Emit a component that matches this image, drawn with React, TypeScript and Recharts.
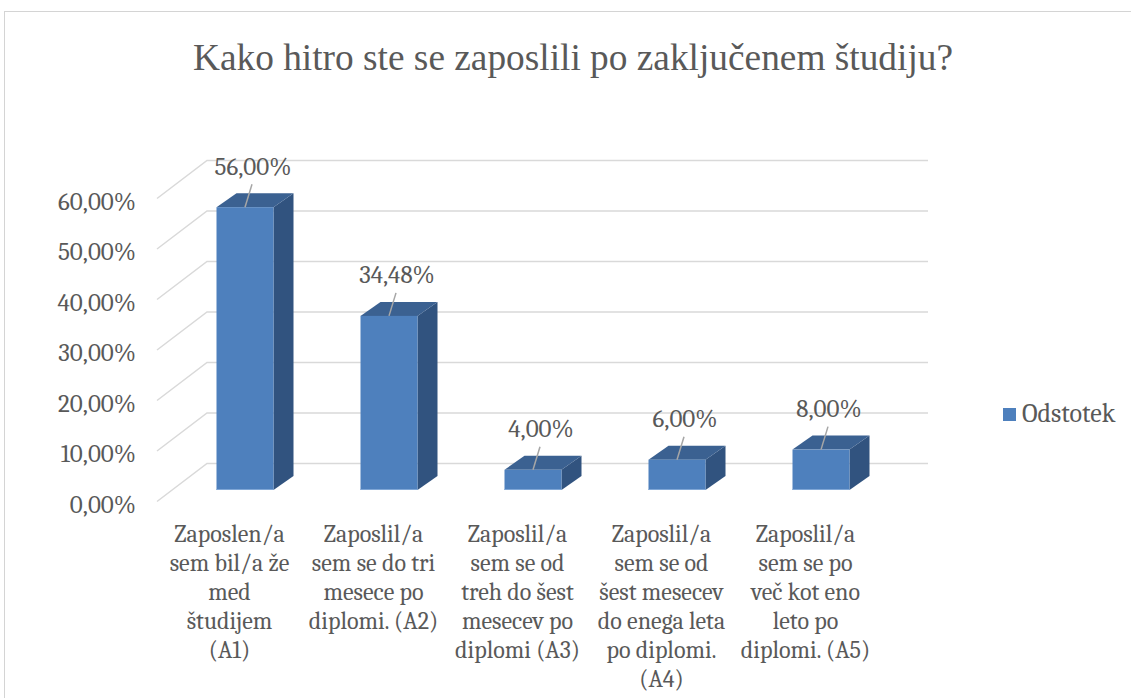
import React from "react";
import { BarChart, Bar, XAxis, YAxis, CartesianGrid, Legend, LabelList } from "recharts";

// podatki z grafa
const kategorije = [
  "Zaposlen/a\nsem bil/a že\nmed\nštudijem\n(A1)",
  "Zaposlil/a\nsem se do tri\nmesece po\ndiplomi. (A2)",
  "Zaposlil/a\nsem se od\ntreh do šest\nmesecev po\ndiplomi (A3)",
  "Zaposlil/a\nsem se od\nšest mesecev\ndo enega leta\npo diplomi.\n(A4)",
  "Zaposlil/a\nsem se po\nveč kot eno\nleto po\ndiplomi. (A5)",
];
const odstotek = [56, 34.48, 4, 6, 8];
const yTicks = [0, 10, 20, 30, 40, 50, 60];

const data = kategorije.map((name, i) => ({ name, Odstotek: odstotek[i] }));

const TEXT = "#595959";
const GRID = "#D9D9D9";
const FONT = "Caladea";
const TITLE_FONT = "Liberation Serif";

const fmt = (v: number) => v.toFixed(2).replace(".", ",") + "%";

// 3D stolpec: spredaj, zgoraj, ob strani
const Bar3D = (props: any) => {
  const { x, y, width, height } = props;
  const dx = 20;
  const dy = 14;
  return (
    <g>
      <polygon
        points={`${x + width},${y} ${x + width + dx},${y - dy} ${x + width + dx},${y + height - dy} ${x + width},${y + height}`}
        fill="#31537F"
      />
      <polygon
        points={`${x},${y} ${x + dx},${y - dy} ${x + width + dx},${y - dy} ${x + width},${y}`}
        fill="#3B6191"
      />
      <rect x={x} y={y} width={width} height={height} fill="#4E80BD" />
      <line x1={x} y1={y + height - 0.5} x2={x + width} y2={y + height - 0.5} stroke="#7FA6D6" strokeWidth={1} />
    </g>
  );
};

const BarLabel = (props: any) => {
  const { x, y, width, value } = props;
  const cx = x + width / 2;
  return (
    <g>
      <line x1={cx} y1={y} x2={cx + 7} y2={y - 23} stroke="#A6A6A6" strokeWidth={1.5} />
      <text x={cx + 8} y={y - 41} textAnchor="middle" dominantBaseline="central" style={{ fontFamily: FONT, fontSize: 25, fill: TEXT }}>
        {fmt(value)}
      </text>
    </g>
  );
};

// mreža: poševni del + zadnja stena
const gridLine = (props: any) => {
  const y = props.y1;
  return (
    <path
      key={"g" + props.index + "-" + y}
      d={`M157,${y + 11.5}L207,${y - 26.5}L928,${y - 26.5}`}
      stroke={GRID}
      strokeWidth={1.5}
      fill="none"
    />
  );
};

const YTick = (props: any) => {
  const { y, payload } = props;
  return (
    <text x={136} y={y + 14} textAnchor="end" dominantBaseline="central" style={{ fontFamily: FONT, fontSize: 25, fill: TEXT }}>
      {fmt(payload.value)}
    </text>
  );
};

const XTick = (props: any) => {
  const { x, y, payload } = props;
  const lines: string[] = String(payload.value).split("\n");
  return (
    <text x={x - 15} y={y + 44} textAnchor="middle" style={{ fontFamily: FONT, fontSize: 24, fill: TEXT }}>
      {lines.map((l, i) => (
        <tspan key={i} x={x - 15} dy={i === 0 ? 0 : 29}>
          {l}
        </tspan>
      ))}
    </text>
  );
};

const LegendBox = () => (
  <div style={{ display: "flex", alignItems: "center", fontFamily: FONT, fontSize: 26, color: TEXT, whiteSpace: "nowrap" }}>
    <span style={{ display: "inline-block", width: 13, height: 13, background: "#4E80BD", marginRight: 6 }} />
    Odstotek
  </div>
);

export default function App() {
  return (
    <div style={{ position: "absolute", left: 0, top: 0, width: 1131, height: 698, overflow: "hidden", background: "#fff" }}>
      <div style={{ position: "absolute", left: 4, top: 11, width: 1200, height: 800, border: "1px solid #D4D4D4" }} />
      <svg width={1131} height={100} style={{ position: "absolute", left: 0, top: 0 }}>
        <text x={573} y={70} textAnchor="middle" textLength={760} lengthAdjust="spacingAndGlyphs" style={{ fontFamily: TITLE_FONT, fontSize: 38, fill: TEXT }}>
          Kako hitro ste se zaposlili po zaključenem študiju?
        </text>
      </svg>
      <div style={{ position: "absolute", left: 0, top: 0 }}>
        <BarChart width={1131} height={698} data={data} margin={{ top: 187, right: 238.5, bottom: 8, left: 12.5 }}>
          <CartesianGrid vertical={false} horizontal={gridLine} />
          <XAxis dataKey="name" axisLine={false} tickLine={false} interval={0} height={200} tick={<XTick />} />
          <YAxis domain={[0, 60]} ticks={yTicks} axisLine={false} tickLine={false} width={160} tick={<YTick />} />
          <Legend
            layout="horizontal"
            align="center"
            verticalAlign="middle"
            wrapperStyle={{ left: 1003, top: 399, width: "auto" }}
            content={() => <LegendBox />}
          />
          <Bar dataKey="Odstotek" barSize={57} shape={<Bar3D />} isAnimationActive={false}>
            <LabelList dataKey="Odstotek" content={<BarLabel />} />
          </Bar>
        </BarChart>
      </div>
    </div>
  );
}
